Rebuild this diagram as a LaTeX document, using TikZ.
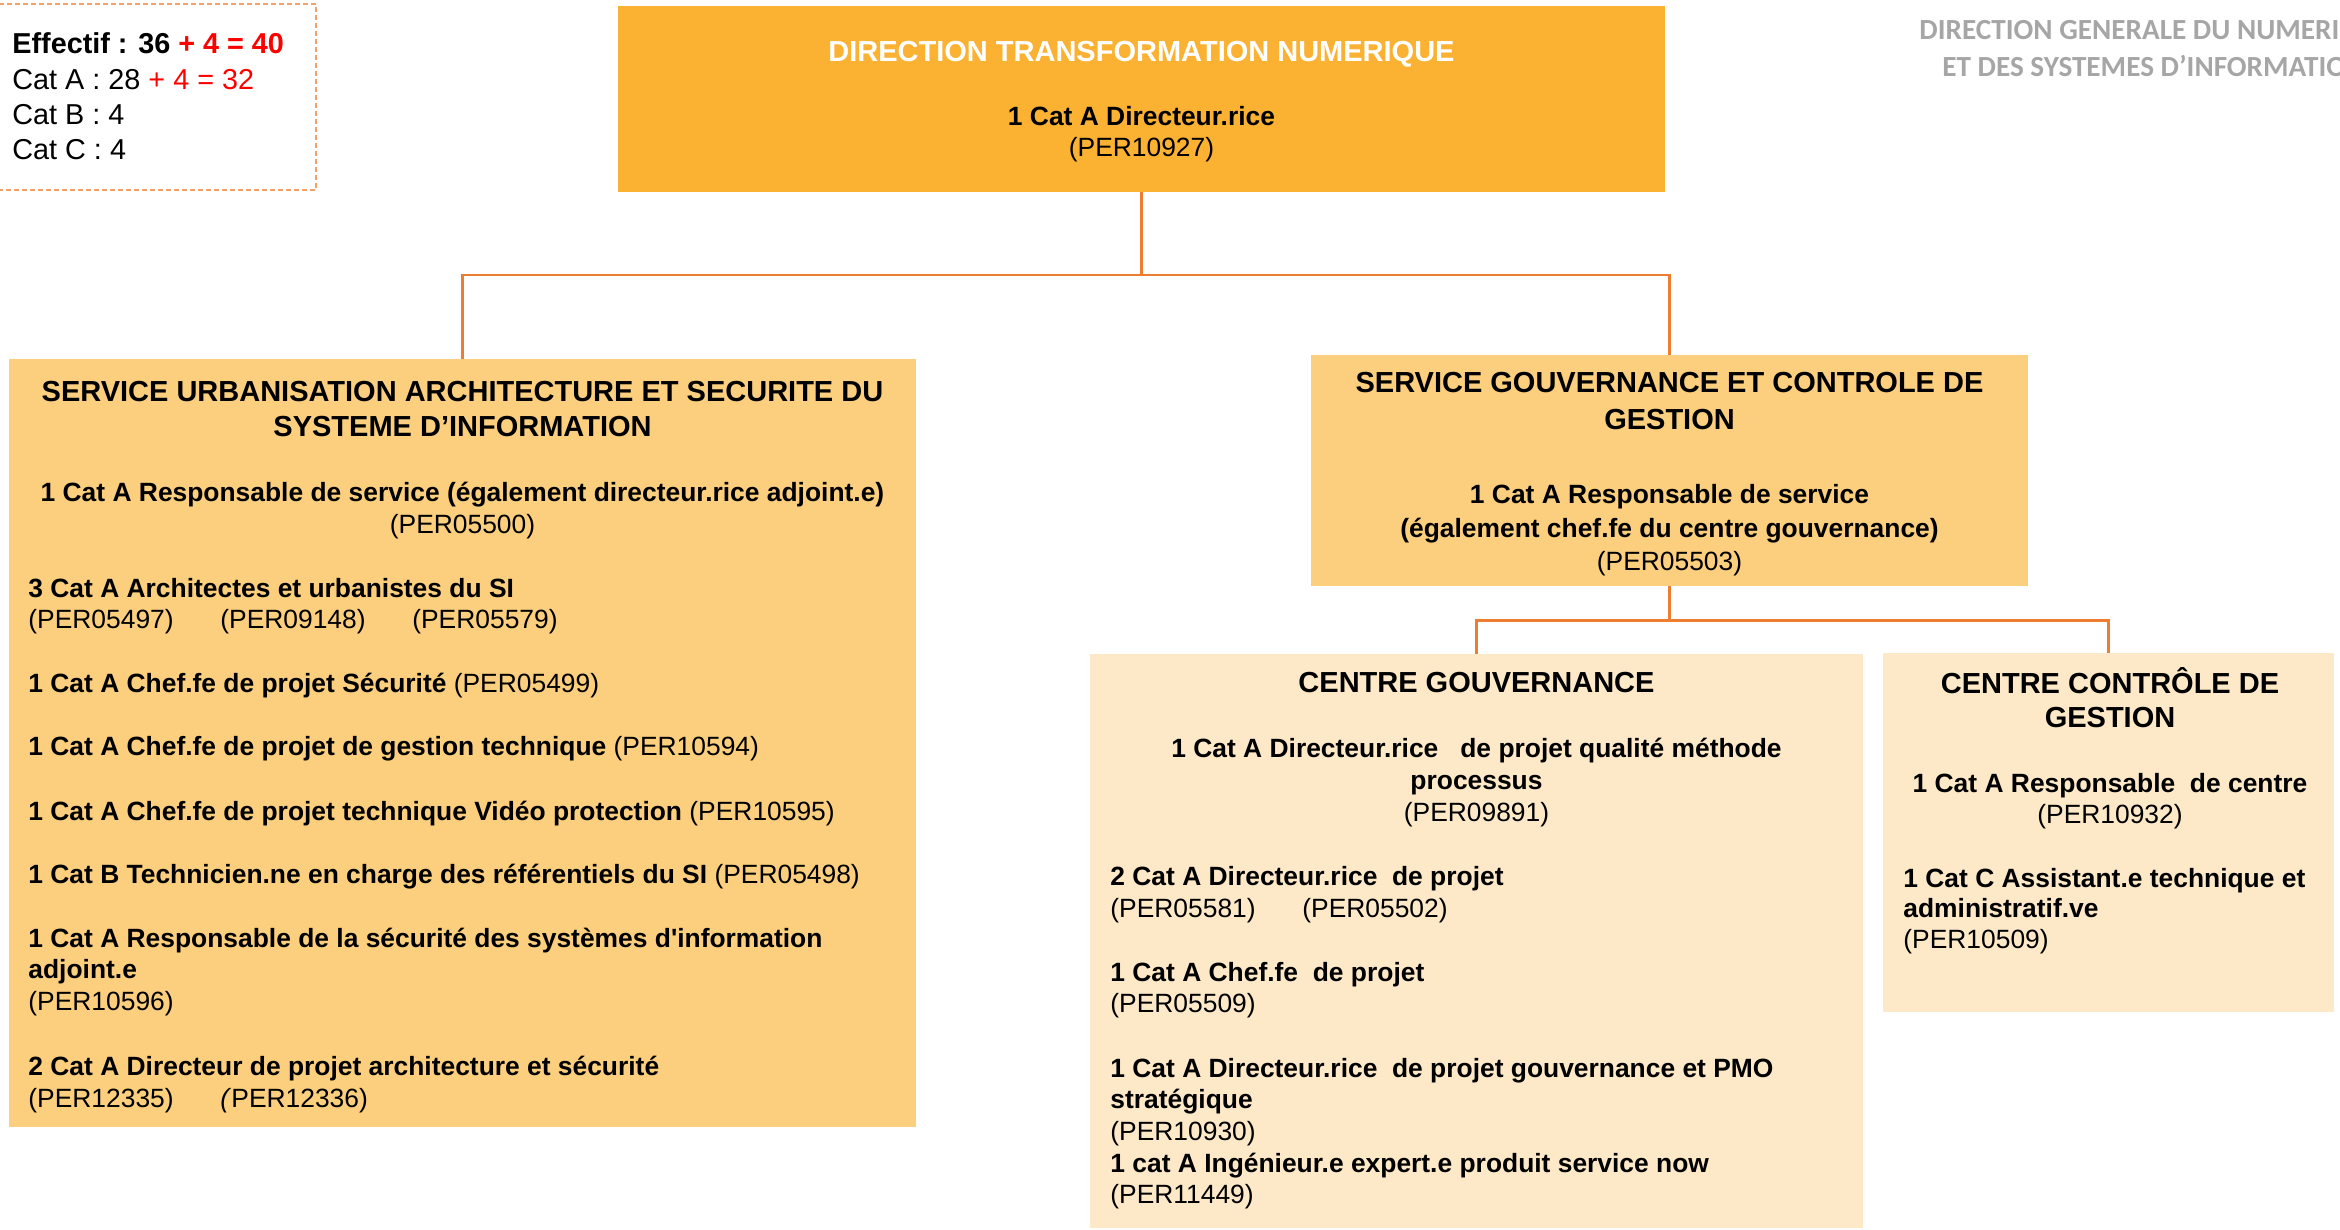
\documentclass[tikz,border=0pt]{standalone}
\usepackage{fontspec}
\setmainfont{Liberation Sans}[Ligatures=TeXOff]
\newfontfamily\carlito{Carlito}
\usetikzlibrary{fit}
\definecolor{topc}{HTML}{FBB232}
\definecolor{svc}{HTML}{FCCF7E}
\definecolor{ctr}{HTML}{FDE9C8}
\definecolor{connc}{HTML}{ED7D31}
\definecolor{dashc}{HTML}{F4A26B}
\definecolor{greyt}{HTML}{A6A6A6}
\definecolor{redt}{HTML}{FF0000}
\newcommand\ttlfont{\fontsize{14.5}{17.5}\selectfont\bfseries}
\newcommand\bdyfont{\fontsize{13.2}{16}\selectfont}
\newcommand\effont{\fontsize{14.4}{17}\selectfont}
\newcommand\grfont{\fontsize{14.6}{16}\selectfont\carlito\bfseries}
\newcommand\pertab[1]{\makebox[96pt][l]{#1}}
\begin{document}
\begin{tikzpicture}[x=0.5pt,y=-0.5pt,
  box/.style={rectangle, inner sep=0pt, draw=none},
  connector/.style={draw=connc, line width=1.1pt},
  ct/.style={anchor=base, inner sep=0pt, font=\ttlfont},
  cb/.style={anchor=base, inner sep=0pt, font=\bdyfont},
  lb/.style={anchor=base west, inner sep=0pt, font=\bdyfont},
  ef/.style={anchor=base west, inner sep=0pt, font=\effont},
  gr/.style={anchor=base west, inner sep=0pt, font=\grfont, text=greyt}]
\useasboundingbox (0,0) rectangle (2340,1230);
\clip (0,0) rectangle (2340,1230);

% boxes
\node[box, fit={(-10,4) (316,190)}, draw=dashc, line width=1pt, dash pattern=on 2.5pt off 1.5pt] (effbox) {};
\node[box, fill=topc, fit={(618,6) (1665,192)}] (dtn) {};
\node[box, fill=svc, fit={(9,359) (916,1127)}] (suasi) {};
\node[box, fill=svc, fit={(1311,355) (2028,586)}] (sgcg) {};
\node[box, fill=ctr, fit={(1090,654) (1863,1228)}] (cg) {};
\node[box, fill=ctr, fit={(1883,653) (2334,1012)}] (ccg) {};

% connectors
\draw[connector] (dtn.south) -- ++(0,83) coordinate (j1) -| (suasi.north);
\draw[connector] (j1) -| (sgcg.north);
\draw[connector] (sgcg.south) -- ++(0,34) coordinate (j2) -| (cg.north);
\draw[connector] (j2) -| (ccg.north);

% effectif
\node[ef] (e1) at (12,54) {\textbf{Effectif : 36 \textcolor{redt}{+ 4 = 40}}};
\node[ef] (e2) at (12,90) {Cat A : 28 \textcolor{redt}{+ 4 = 32}};
\node[ef] (e3) at (12,125) {Cat B : 4};
\node[ef] (e4) at (12,160) {Cat C : 4};

% top right grey
\node[gr] (g1) at (1919,40) {DIRECTION GENERALE DU NUMERIQUE};
\node[gr] (g2) at (1942,77) {ET DES SYSTEMES D’INFORMATION};

% top box
\node[ct, text=white] (t1) at (1141.5,62) {DIRECTION TRANSFORMATION NUMERIQUE};
\node[cb] (t2) at (1141.5,126) {\textbf{1 Cat A Directeur.rice}};
\node[cb] (t3) at (1141.5,157) {(PER10927)};

% left service
\node[ct] (a1) at (462.5,401) {SERVICE URBANISATION ARCHITECTURE ET SECURITE DU};
\node[ct] (a2) at (462.5,436) {SYSTEME D’INFORMATION};
\node[cb] (a3) at (462.5,501) {\textbf{1 Cat A Responsable de service (également directeur.rice adjoint.e)}};
\node[cb] (a4) at (462.5,533) {(PER05500)};
\node[lb] (a5) at (28,597) {\textbf{3 Cat A Architectes et urbanistes du SI}};
\node[lb] (a6) at (28,628) {\pertab{(PER05497)}\pertab{(PER09148)}(PER05579)};
\node[lb] (a7) at (28,692) {\textbf{1 Cat A Chef.fe de projet Sécurité} (PER05499)};
\node[lb] (a8) at (28,755) {\textbf{1 Cat A Chef.fe de projet de gestion technique} (PER10594)};
\node[lb] (a9) at (28,820) {\textbf{1 Cat A Chef.fe de projet technique Vidéo protection} (PER10595)};
\node[lb] (a10) at (28,883) {\textbf{1 Cat B Technicien.ne en charge des référentiels du SI} (PER05498)};
\node[lb] (a11) at (28,947) {\textbf{1 Cat A Responsable de la sécurité des systèmes d'information}};
\node[lb] (a12) at (28,978) {\textbf{adjoint.e}};
\node[lb] (a13) at (28,1010) {(PER10596)};
\node[lb] (a14) at (28,1075) {\textbf{2 Cat A Directeur de projet architecture et sécurité}};
\node[lb] (a15) at (28,1107) {\pertab{(PER12335)}\textit{(}PER12336)};

% right service
\node[ct] (b1) at (1669.5,393) {SERVICE GOUVERNANCE ET CONTROLE DE};
\node[ct] (b2) at (1669.5,429) {GESTION};
\node[cb] (b3) at (1669.5,503) {\textbf{1 Cat A Responsable de service}};
\node[cb] (b4) at (1669.5,537) {\textbf{(également chef.fe du centre gouvernance)}};
\node[cb] (b5) at (1669.5,570) {(PER05503)};

% centre gouvernance
\node[ct] (c1) at (1476.5,692) {CENTRE GOUVERNANCE};
\node[cb] (c2) at (1476.5,757) {\textbf{1 Cat A Directeur.rice\ \ \ de projet qualité méthode}};
\node[cb] (c3) at (1476.5,789) {\textbf{processus}};
\node[cb] (c4) at (1476.5,821) {(PER09891)};
\node[lb] (c5) at (1110,885) {\textbf{2 Cat A Directeur.rice\ \ de projet}};
\node[lb] (c6) at (1110,917) {\pertab{(PER05581)}(PER05502)};
\node[lb] (c7) at (1110,981) {\textbf{1 Cat A Chef.fe\ \ de projet}};
\node[lb] (c8) at (1110,1012) {(PER05509)};
\node[lb] (c9) at (1110,1077) {\textbf{1 Cat A Directeur.rice\ \ de projet gouvernance et PMO}};
\node[lb] (c10) at (1110,1108) {\textbf{stratégique}};
\node[lb] (c11) at (1110,1140) {(PER10930)};
\node[lb] (c12) at (1110,1172) {\textbf{1 cat A Ingénieur.e expert.e produit service now}};
\node[lb] (c13) at (1110,1203) {(PER11449)};

% centre controle
\node[ct] (d1) at (2110,693) {CENTRE CONTRÔLE DE};
\node[ct] (d2) at (2110,727) {GESTION};
\node[cb] (d3) at (2110,792) {\textbf{1 Cat A Responsable\ \ de centre}};
\node[cb] (d4) at (2110,823) {(PER10932)};
\node[lb] (d5) at (1903,887) {\textbf{1 Cat C Assistant.e technique et}};
\node[lb] (d6) at (1903,917) {\textbf{administratif.ve}};
\node[lb] (d7) at (1903,948) {(PER10509)};
\end{tikzpicture}
\end{document}
